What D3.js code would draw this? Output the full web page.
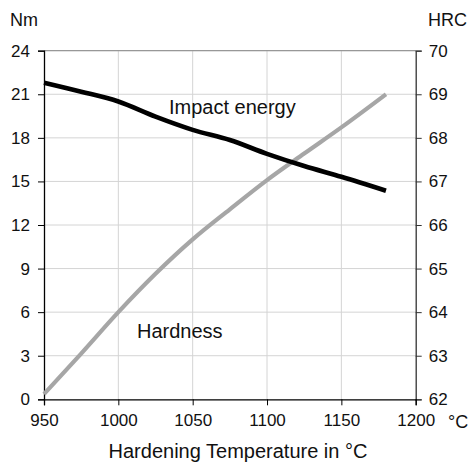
<!DOCTYPE html>
<html>
<head>
<meta charset="utf-8">
<script src="https://cdn.jsdelivr.net/npm/d3@7"></script>
<style>
  html, body { margin: 0; padding: 0; background: #fff; }
  svg { display: block; font-family: "Liberation Sans", Arial, sans-serif; }
</style>
</head>
<body>
<svg id="chart" width="469" height="466"></svg>
<script>
// Data
const temperatures = [950, 975, 1000, 1025, 1050, 1075, 1100, 1125, 1150, 1180];
const impactEnergy = [21.8, 21.18, 20.5, 19.46, 18.55, 17.85, 16.9, 16.06, 15.32, 14.36];
const hardness = [62.12, 63.05, 64.0, 64.88, 65.67, 66.36, 67.03, 67.64, 68.24, 69.0];
const xTicks = [950, 1000, 1050, 1100, 1150, 1200];
const leftTicks = [0, 3, 6, 9, 12, 15, 18, 21, 24];
const rightTicks = [62, 63, 64, 65, 66, 67, 68, 69, 70];

const svg = d3.select("#chart");
const pL = 44, pR = 415.7, pT = 50.7, pB = 399.3;

const x = d3.scaleLinear().domain([950, 1200]).range([pL, pR]);
const yL = d3.scaleLinear().domain([0, 24]).range([pB, pT]);
const yR = d3.scaleLinear().domain([62, 70]).range([pB, pT]);

// Gridlines
svg.append("g").selectAll("line").data(leftTicks.slice(1)).join("line")
  .attr("x1", pL).attr("x2", pR)
  .attr("y1", d => yL(d)).attr("y2", d => yL(d))
  .attr("stroke", "#d4d4d4").attr("stroke-width", 1);
svg.append("g").selectAll("line").data(xTicks.slice(1, -1)).join("line")
  .attr("x1", d => x(d)).attr("x2", d => x(d))
  .attr("y1", pT).attr("y2", pB)
  .attr("stroke", "#d4d4d4").attr("stroke-width", 1);

// Top border
svg.append("line").attr("x1", pL).attr("x2", pR).attr("y1", pT).attr("y2", pT)
  .attr("stroke", "#888").attr("stroke-width", 1);

// Axes
const fs = "17px";
const axL = svg.append("g").attr("transform", `translate(${pL},0)`)
  .call(d3.axisLeft(yL).tickValues(leftTicks).tickSize(6).tickPadding(8));
const axR = svg.append("g").attr("transform", `translate(${pR},0)`)
  .call(d3.axisRight(yR).tickValues(rightTicks).tickSize(6).tickPadding(7));
const axB = svg.append("g").attr("transform", `translate(0,${pB})`)
  .call(d3.axisBottom(x).tickValues(xTicks).tickSize(6).tickPadding(9).tickFormat(d3.format("d")));

[axL, axR, axB].forEach(a => {
  a.selectAll("text").attr("font-size", fs).attr("fill", "#111")
    .attr("font-family", '"Liberation Sans", Arial, sans-serif');
  a.select(".domain").attr("stroke-width", 1.3);
});
axL.selectAll("line, .domain").attr("stroke", "#000");
axB.selectAll("line, .domain").attr("stroke", "#000");
axR.selectAll("line, .domain").attr("stroke", "#333");

// Lines
const lineImpact = d3.line().curve(d3.curveMonotoneX).x((d, i) => x(temperatures[i])).y(d => yL(d));
const lineHard = d3.line().curve(d3.curveMonotoneX).x((d, i) => x(temperatures[i])).y(d => yR(d));

svg.append("path").datum(hardness).attr("d", lineHard)
  .attr("fill", "none").attr("stroke", "#a6a6a6").attr("stroke-width", 4.2)
  .attr("stroke-linejoin", "round");
svg.append("path").datum(impactEnergy).attr("d", lineImpact)
  .attr("fill", "none").attr("stroke", "#000").attr("stroke-width", 4.6)
  .attr("stroke-linejoin", "round");

// Annotations
svg.append("text").attr("x", 169).attr("y", 114).attr("font-size", "20px").attr("fill", "#111")
  .text("Impact energy");
svg.append("text").attr("x", 137).attr("y", 338).attr("font-size", "20px").attr("fill", "#111")
  .text("Hardness");

// Axis titles
svg.append("text").attr("x", 10).attr("y", 26).attr("font-size", "18px").attr("fill", "#111").text("Nm");
svg.append("text").attr("x", 428).attr("y", 26).attr("font-size", "18px").attr("fill", "#111").text("HRC");
svg.append("text").attr("x", 448).attr("y", 428).attr("font-size", "18px").attr("fill", "#111").text("°C");
svg.append("text").attr("x", 238).attr("y", 458).attr("text-anchor", "middle")
  .attr("font-size", "20px").attr("fill", "#111").text("Hardening Temperature in °C");
</script>
</body>
</html>
